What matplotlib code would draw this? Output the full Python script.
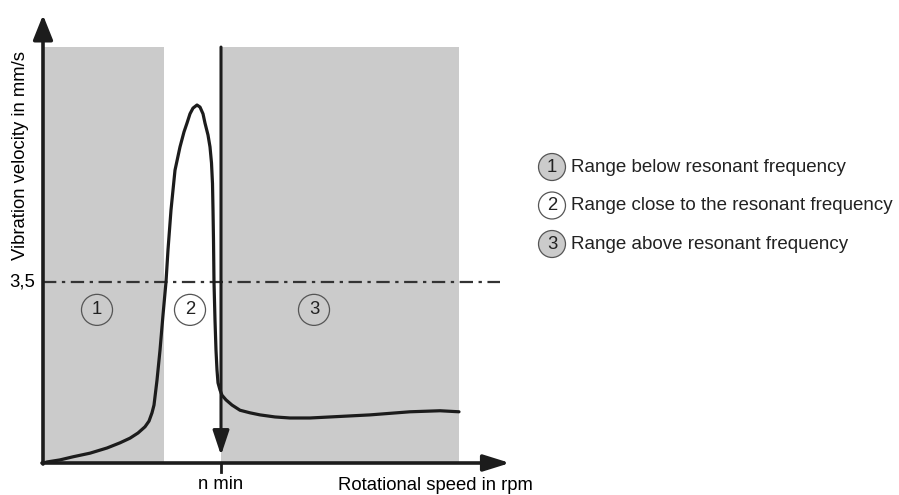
import matplotlib
matplotlib.use("Agg")
import matplotlib.pyplot as plt
from matplotlib.patches import Rectangle

plt.rcParams["font.family"] = ["Liberation Sans", "DejaVu Sans"]

# Kurve: Drehzahl (willk. Einheiten) / Schwinggeschwindigkeit in mm/s
speed = [0.1, 0.4, 1.7, 3.0, 4.7, 6.4, 7.7, 8.7, 9.5, 10.2, 10.6, 10.9,
         11.1, 11.2, 11.4, 11.7, 12.0, 12.3, 12.5, 12.8, 13.2, 13.7, 14.1,
         14.4, 14.7, 15.0, 15.4, 15.7, 16.0, 16.2, 16.5, 16.7, 16.85, 16.95,
         17.0, 17.05, 17.1, 17.2, 17.3, 17.4, 17.5, 17.7, 17.9, 18.3, 18.9,
         19.7, 20.7, 21.7, 23.2, 24.7, 26.7, 28.7, 32.7, 36.7, 39.7, 41.6]
velocity = [0.00, 0.02, 0.06, 0.12, 0.19, 0.29, 0.39, 0.48, 0.58, 0.70,
            0.81, 0.97, 1.12, 1.28, 1.60, 2.18, 2.86, 3.50, 4.12, 4.89,
            5.66, 6.11, 6.40, 6.57, 6.75, 6.86, 6.92, 6.88, 6.75, 6.57,
            6.34, 6.11, 5.80, 5.40, 4.90, 4.31, 3.50, 2.76, 2.18, 1.80,
            1.55, 1.41, 1.31, 1.22, 1.12, 1.02, 0.97, 0.93, 0.89, 0.87,
            0.87, 0.89, 0.93, 0.99, 1.01, 0.99]

limit = 3.5            # Grenzwert mm/s
n_min = 17.8           # Mindestdrehzahl
region1 = (0.0, 12.1)  # unterhalb Resonanz
region3 = (17.8, 41.6) # oberhalb Resonanz
region_top = 8.04
circle_labels = ["1", "2", "3"]
circle_x = [5.4, 14.7, 27.1]
circle_y = 2.96
legend_texts = ["Range below resonant frequency",
                "Range close to the resonant frequency",
                "Range above resonant frequency"]

GRAY = "#cbcbcb"
DARK = "#1c1c1c"
FS = 13.3

fig = plt.figure(figsize=(8.99, 4.95), dpi=100)
ax = fig.add_axes([43 / 899, 32 / 495, 470 / 899, 448 / 495])
ax.set_xlim(0, 47)
ax.set_ylim(0, 8.66)
ax.axis("off")

# graue Bereiche
for x0, x1 in (region1, region3):
    ax.add_patch(Rectangle((x0, 0), x1 - x0, region_top, facecolor=GRAY,
                           edgecolor="none", zorder=0))

# Grenzwert-Linie
ax.plot([0, 45.7], [limit, limit], color="#333333", lw=1.6,
        dashes=(6, 2.5, 1.5, 2.5), zorder=2)

# Kurve
ax.plot(speed, velocity, color=DARK, lw=2.3, solid_joinstyle="round",
        solid_capstyle="round", zorder=3)

# Achsen mit Pfeilen
ax.annotate("", xy=(0, 8.66), xytext=(0, -0.02),
            arrowprops=dict(arrowstyle="-|>,head_length=1.5,head_width=0.6",
                            color=DARK, lw=2.6, shrinkA=0, shrinkB=0),
            annotation_clip=False, zorder=4)
ax.annotate("", xy=(46.7, 0), xytext=(-0.1, 0),
            arrowprops=dict(arrowstyle="-|>,head_length=1.6,head_width=0.5",
                            color=DARK, lw=2.6, shrinkA=0, shrinkB=0),
            annotation_clip=False, zorder=4)

# n min Pfeil
ax.annotate("", xy=(n_min, 0.15), xytext=(n_min, region_top),
            arrowprops=dict(arrowstyle="-|>,head_length=1.5,head_width=0.5",
                            color=DARK, lw=2.2, shrinkA=0, shrinkB=0),
            zorder=4)
ax.plot([n_min, n_min], [0, -0.17], color=DARK, lw=2, clip_on=False)

# Kreise mit Nummern
for lab, cx in zip(circle_labels, circle_x):
    fc = "white" if lab == "2" else GRAY
    ax.text(cx, circle_y, lab, fontsize=FS, ha="center", va="center",
            color="#222222", zorder=5,
            bbox=dict(boxstyle="circle,pad=0.38", fc=fc, ec="#555555", lw=0.9))

# Beschriftungen
ax.text(n_min, -0.25, "n min", fontsize=FS, ha="center", va="top")
ax.text(39.2, -0.27, "Rotational speed in rpm", fontsize=FS, ha="center",
        va="top")
ax.text(-0.75, limit, "3,5", fontsize=FS, ha="right", va="center")
fig.text(21 / 899, 1 - 155 / 495, "Vibration velocity in mm/s", fontsize=FS,
         rotation=90, ha="center", va="center")

# Legende
for i, (lab, txt) in enumerate(zip(circle_labels, legend_texts)):
    yy = 1 - (167 + 38.5 * i) / 495
    fc = "white" if lab == "2" else GRAY
    fig.text(552 / 899, yy, lab, fontsize=FS, ha="center", va="center",
             color="#222222",
             bbox=dict(boxstyle="circle,pad=0.27", fc=fc, ec="#555555", lw=0.9))
    fig.text(571 / 899, yy, txt, fontsize=13.5, ha="left", va="center",
             color="#222222")

fig.savefig("out.png", dpi=100)
